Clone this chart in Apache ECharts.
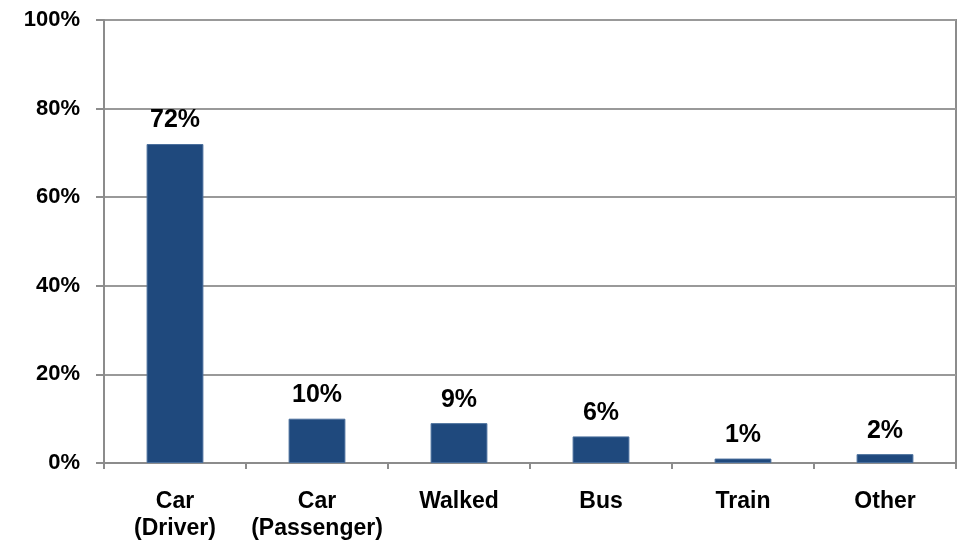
<!DOCTYPE html>
<html>
<head>
<meta charset="utf-8">
<style>
  html, body { margin: 0; padding: 0; background: #ffffff; }
  #chart { width: 964px; height: 544px; }
</style>
<script src="https://cdn.jsdelivr.net/npm/echarts@6/dist/echarts.min.js"></script>
</head>
<body>
<div id="chart"></div>
<script>
// Mode of travel shares (percent)
const categories = ['Car\n(Driver)', 'Car\n(Passenger)', 'Walked', 'Bus', 'Train', 'Other'];
const shares = [72, 10, 9, 6, 1, 2];
const yTicks = [0, 20, 40, 60, 80, 100];

const chart = echarts.init(document.getElementById('chart'), null, { renderer: 'canvas' });
const font = '"Liberation Sans", Arial, Helvetica, sans-serif';

chart.setOption({
  animation: false,
  grid: {
    left: 104, right: 8, top: 20, bottom: 81,
    show: true, borderColor: '#8c8c8c', borderWidth: 2, backgroundColor: 'transparent'
  },
  xAxis: {
    type: 'category',
    data: categories,
    axisLine: { lineStyle: { color: '#8c8c8c', width: 2 } },
    axisTick: { show: true, alignWithLabel: false, length: 6, lineStyle: { color: '#8c8c8c', width: 2 } },
    axisLabel: {
      margin: 25, color: '#000', fontFamily: font, fontWeight: 'bold', fontSize: 23,
      lineHeight: 27, interval: 0
    }
  },
  yAxis: {
    type: 'value',
    min: yTicks[0], max: yTicks[yTicks.length - 1], interval: 20,
    axisLine: { show: true, lineStyle: { color: '#8c8c8c', width: 2 } },
    axisTick: { show: true, length: 8, lineStyle: { color: '#8c8c8c', width: 2 } },
    splitLine: { lineStyle: { color: '#999999', width: 2 } },
    axisLabel: {
      margin: 24, color: '#000', fontFamily: font, fontWeight: 'bold', fontSize: 22,
      formatter: v => v + '%'
    }
  },
  series: [{
    type: 'bar',
    data: shares,
    barWidth: '40%',
    itemStyle: { color: '#1f497d', borderColor: '#4a6f9c', borderWidth: 1 },
    label: {
      show: true, position: 'top', distance: 11,
      color: '#000', fontFamily: font, fontWeight: 'bold', fontSize: 25,
      formatter: p => p.value + '%'
    }
  }]
});
</script>
</body>
</html>
